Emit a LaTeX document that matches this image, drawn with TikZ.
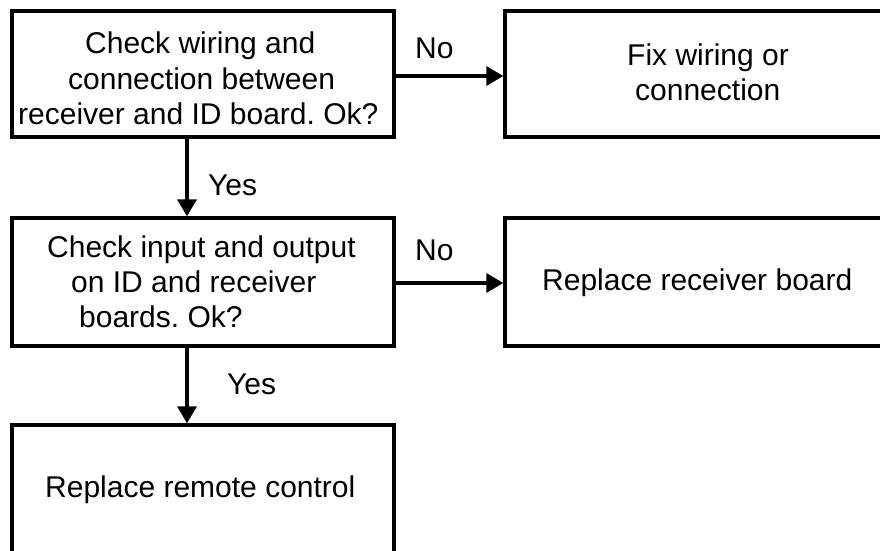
\documentclass[tikz,border=0pt]{standalone}
\usepackage{fontspec}
\setmainfont{Liberation Sans}
\usetikzlibrary{arrows.meta}
\frenchspacing
\begin{document}
\begin{tikzpicture}[x=1pt,y=-1pt,
  box/.style={draw=black,line width=3.3pt,rectangle,inner sep=0pt},
  txt/.style={anchor=base west,inner sep=0pt,font=\fontsize{30pt}{36pt}\selectfont},
  conn/.style={line width=3.3pt,-{Triangle[length=17pt,width=19pt]}}]
\useasboundingbox (0,0) rectangle (880,550);
\clip (0,0) rectangle (880,550);
\fill[white] (0,0) rectangle (880,550);
% boxes
\node[box,minimum width=382pt,minimum height=126pt] (A) at (203,74) {};
\node[box,minimum width=385pt,minimum height=126pt] (B) at (697.5,74) {};
\node[box,minimum width=382pt,minimum height=128pt] (C) at (203,282) {};
\node[box,minimum width=385pt,minimum height=128pt] (D) at (697.5,282) {};
\node[box,minimum width=382pt,minimum height=140pt] (E) at (203,495) {};
% texts
\node[txt] (a1) at (85,53) {Check wiring and};
\node[txt] (a2) at (68,89) {connection between};
\node[txt] (a3) at (18,124) {receiver and ID board. Ok?};
\node[txt] (b1) at (627,65) {Fix wiring or};
\node[txt] (b2) at (635,100) {connection};
\node[txt] (c1) at (47,257) {Check input and output};
\node[txt] (c2) at (71,292) {on ID and receiver};
\node[txt] (c3) at (79,327) {boards. Ok?};
\node[txt] (d1) at (542,290) {Replace receiver board};
\node[txt] (e1) at (45,497) {Replace remote control};
% labels
\node[txt] (no1) at (415,58) {No};
\node[txt] (no2) at (415,260) {No};
\node[txt] (yes1) at (208,195) {Yes};
\node[txt] (yes2) at (227,394) {Yes};
% connectors
\coordinate (vx) at (187,0);
\draw[conn] (A.south -| vx) -- (C.north -| vx);
\draw[conn] (C.south -| vx) -- (E.north -| vx);
\coordinate (h1) at (0,76);
\coordinate (h2) at (0,283);
\draw[conn] (A.east |- h1) -- (B.west |- h1);
\draw[conn] (C.east |- h2) -- (D.west |- h2);
\end{tikzpicture}
\end{document}
